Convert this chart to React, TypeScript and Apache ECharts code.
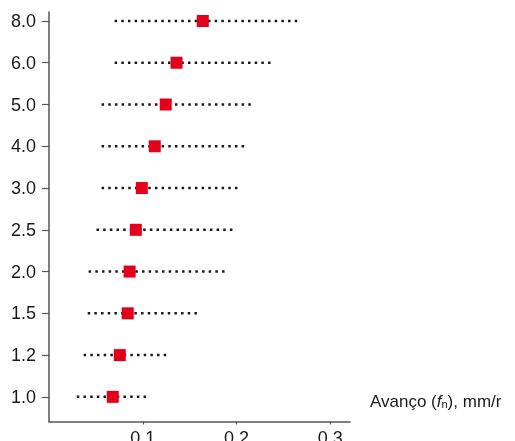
import React, { useEffect, useRef } from "react";
import * as echarts from "echarts";

const categories = ["1.0", "1.2", "1.5", "2.0", "2.5", "3.0", "4.0", "5.0", "6.0", "8.0"];
const rangeLow = [0.031, 0.0383, 0.0426, 0.0436, 0.052, 0.0574, 0.0574, 0.0574, 0.0713, 0.0713];
const rangeHigh = [0.103, 0.1255, 0.1585, 0.189, 0.196, 0.201, 0.2074, 0.215, 0.235, 0.264];
const markValues = [0.068, 0.0755, 0.084, 0.086, 0.0926, 0.099, 0.1128, 0.1245, 0.136, 0.164];
const xTicks = [0.1, 0.2, 0.3];

export default function App() {
  const ref = useRef<HTMLDivElement>(null);
  useEffect(() => {
    if (!ref.current) return;
    const chart = echarts.init(ref.current, null, { renderer: "svg" });
    const idx = categories.map((_, i) => i);
    const font = "'Liberation Sans', Arial, sans-serif";
    chart.setOption({
      animation: false,
      grid: { left: 49, right: 165, top: 12, bottom: 19.5, containLabel: false, outerBoundsMode: "none" },
      xAxis: {
        type: "value",
        min: 0,
        max: 0.321,
        splitLine: { show: false },
        axisLine: { show: true, onZero: false, lineStyle: { color: "#555", width: 1.5 } },
        axisTick: { show: true, customValues: xTicks, length: 3, lineStyle: { color: "#555", width: 1.2 } },
        axisLabel: {
          customValues: xTicks,
          formatter: (v: number) => v.toFixed(1),
          fontSize: 18,
          color: "#1a1a1a",
          fontFamily: font,
          margin: 7,
        },
        name: "{t|Avanço (}{i|f}{s|n}{t|), mm/r}",
        nameLocation: "end",
        nameGap: 20,
        nameTextStyle: {
          verticalAlign: "bottom",
          padding: [0, 0, 12, 0],
          rich: {
            t: { fontSize: 17, color: "#1a1a1a", fontFamily: font },
            i: { fontSize: 17, color: "#1a1a1a", fontFamily: font, fontStyle: "italic" },
            s: { fontSize: 11, color: "#1a1a1a", fontFamily: font, padding: [6, 0, 0, 0] },
          },
        },
      },
      yAxis: {
        type: "value",
        min: -0.59,
        max: 9.215,
        splitLine: { show: false },
        axisLine: { show: true, onZero: false, lineStyle: { color: "#555", width: 1.5 } },
        axisTick: { show: true, customValues: idx, length: 7, lineStyle: { color: "#555", width: 1.2 } },
        axisLabel: {
          customValues: idx,
          formatter: (v: number) => categories[Math.round(v)],
          fontSize: 18,
          color: "#1a1a1a",
          fontFamily: font,
          margin: 13,
        },
      },
      series: [
        {
          type: "custom",
          data: categories.map((_, i) => [rangeLow[i], rangeHigh[i], i]),
          encode: { x: [0, 1], y: 2 },
          z: 2,
          renderItem: (params: any, api: any) => {
            const p1 = api.coord([api.value(0), api.value(2)]);
            const p2 = api.coord([api.value(1), api.value(2)]);
            return {
              type: "line",
              shape: { x1: p1[0] - 1.25, y1: p1[1], x2: p2[0] + 1.25, y2: p2[1] },
              style: { stroke: "#1a1a1a", lineWidth: 2.5, lineDash: [2.5, 4.17] },
            };
          },
        },
        {
          type: "scatter",
          data: categories.map((_, i) => [markValues[i], i]),
          symbol: "rect",
          symbolSize: 12,
          itemStyle: { color: "#e2001a", opacity: 1 },
          z: 3,
        },
      ],
    });
    return () => chart.dispose();
  }, []);
  return <div ref={ref} style={{ position: "fixed", left: 0, top: 0, width: 515, height: 441 }} />;
}
